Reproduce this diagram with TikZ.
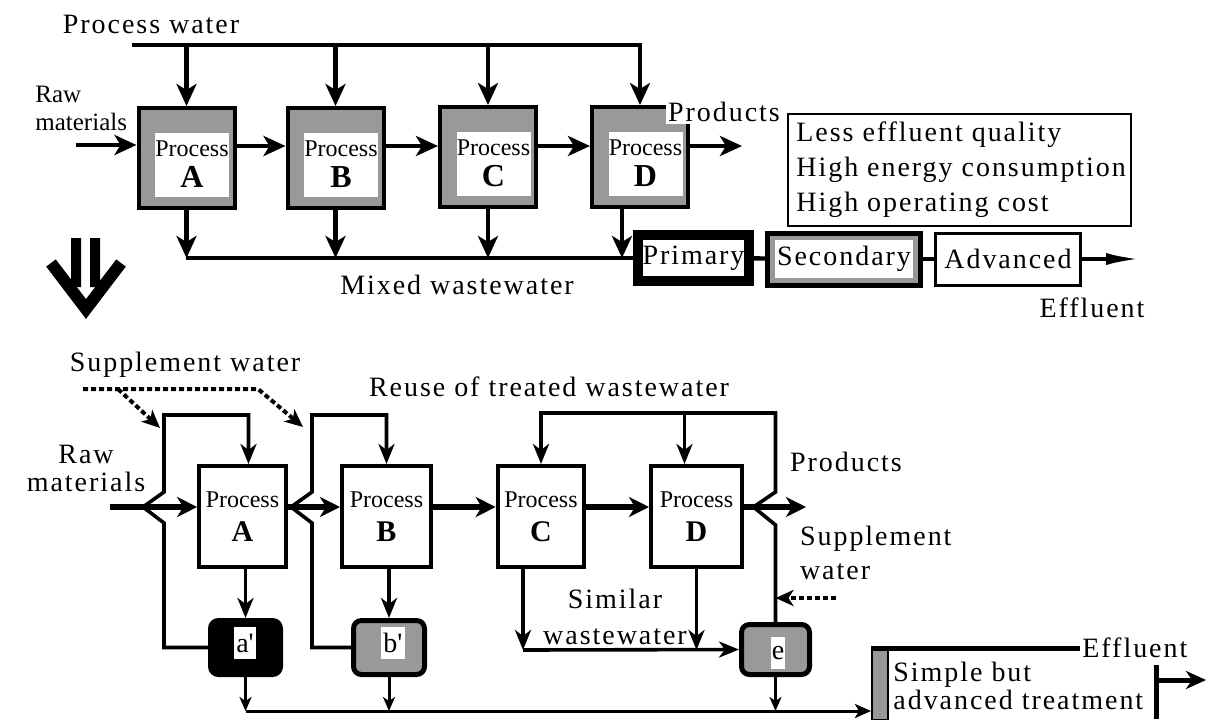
\documentclass[tikz,border=0pt]{standalone}
\usepackage{fontspec}
\setmainfont{Liberation Serif}[LetterSpace=7]
\newfontfamily\procfont{Liberation Serif}
\usetikzlibrary{arrows.meta}

\begin{document}
\begin{tikzpicture}[x=0.5pt,y=-0.5pt,font=\fontsize{14}{14}\selectfont,line join=miter,
  pipe/.style={line width=2.2pt},
  flow/.style={pipe,-{Stealth[length=11pt,width=10pt,inset=3pt]}},
  loopline/.style={line width=1.8pt},
  loopflow/.style={loopline,-{Stealth[length=10pt,width=8pt,inset=3pt]}},
  feed/.style={line width=2.6pt,-{Stealth[length=10pt,width=10pt,inset=3pt]}},
  drip/.style={line width=1.5pt,-{Stealth[length=7pt,width=6pt,inset=2pt]}},
  dotflow/.style={line width=2pt,dash pattern=on 2.5pt off 1.5pt,-{Stealth[length=9pt,width=8pt,inset=2.5pt]}},
  topbox/.style={draw,line width=2pt,fill=black!40,minimum width=48pt,minimum height=50pt},
  topin/.style={fill=white,inner sep=0pt,minimum width=37pt,minimum height=32pt,align=center,
    font=\procfont\fontsize{12}{15.5}\selectfont},
  botbox/.style={draw,line width=2pt,fill=white,minimum height=50.5pt,align=center,
    font=\procfont\fontsize{12}{17}\selectfont},
  tank/.style={draw,line width=2.5pt,rounded corners=4pt,fill=black!40},
  tag/.style={fill=white,inner sep=1pt,minimum height=16pt,minimum width=11pt},
]
\useasboundingbox (0,0) rectangle (1206,719);

% conventional layout
\node[topbox] (pA) at (186.5,158) {};
\node[topbox] (pB) at (335.5,158) {};
\node[topbox] (pC) at (488,157) {};
\node[topbox] (pD) at (640,157) {};
\node[topin] (iA) at (192,164.5) {Process\\{\fontsize{16}{15.5}\selectfont\bfseries A}};
\node[topin] (iB) at (341,164.5) {Process\\{\fontsize{16}{15.5}\selectfont\bfseries B}};
\node[topin] (iC) at (493.5,163.5) {Process\\{\fontsize{16}{15.5}\selectfont\bfseries C}};
\node[topin] (iD) at (645.5,163.5) {Process\\{\fontsize{16}{15.5}\selectfont\bfseries D}};

\node (pw) at (151,24) {Process water};
\coordinate (pwl) at (132,45);
\draw[flow] (pwl) -| (pD.north);
\foreach \b in {pA,pB,pC}
  \draw[flow] (\b.north |- pwl) -- (\b.north);

\node[align=left,anchor=west,inner sep=0pt,font=\procfont\fontsize{12.5}{14}\selectfont] (rawT) at (35,108) {Raw\\materials};
\coordinate (rawTin) at (76,145);
\draw[flow] (rawTin) -- (pA.west |- rawTin);
\coordinate (lvT) at (0,146);
\draw[flow] (pA.east |- lvT) -- (pB.west |- lvT);
\draw[flow] (pB.east |- lvT) -- (pC.west |- lvT);
\draw[flow] (pC.east |- lvT) -- (pD.west |- lvT);
\coordinate (prodT) at (742,146);
\draw[flow] (pD.east |- prodT) -- (prodT);
\node[fill=white,inner sep=1pt] (prT) at (724,112) {Products};

\node[draw,line width=5pt,fill=white,minimum width=55.5pt,minimum height=23pt,inner sep=1pt] (prim) at (693.5,258) {Primary};
\node[draw,line width=2.5pt,fill=black!40,minimum width=76.5pt,minimum height=26pt] (sec) at (844,259) {};
\node[fill=white,minimum width=69pt,minimum height=19pt,inner sep=0pt] (secT) at (sec.center) {Secondary};
\node[draw,line width=1.5pt,minimum width=72.5pt,minimum height=26pt] (adv) at (1008,259) {Advanced};
\draw[pipe] (prim) -- (sec);
\draw[pipe] (sec) -- (adv);
\coordinate (effT) at (1142,259);
\draw[line width=2.2pt,-{Latex[length=18pt,width=6pt]}] (adv.east) -- (effT);
\node (effTl) at (1092,308) {Effluent};

\coordinate (mx) at (186,258);
\draw[pipe] (mx) -- (prim.west);
\foreach \b in {pA,pB,pC}
  \draw[flow] (\b.south) -- (\b.south |- mx);
\path ([xshift=-9pt]pD.south) coordinate (dD);
\draw[flow] (dD) -- (dD |- mx);
\node (mixL) at (457,285) {Mixed wastewater};

\node[draw,line width=1pt,minimum width=171.5pt,minimum height=56pt] (note) at (959.5,170) {};
\node[anchor=west,align=left,inner sep=0pt,font=\fontsize{14}{17.5}\selectfont] (noteT) at (796,170)
  {Less effluent quality\\High energy consumption\\High operating cost};

% big down arrow
\fill (71,238) rectangle (81,287) (90,238) rectangle (100,287);
\draw[line width=6pt] (51,263) -- (86,309) -- (121,263);

% reuse layout
\node (supT) at (185,365) {Supplement water};
\node (reuseT) at (549,387) {Reuse of treated wastewater};
\node[align=center] (rawB) at (86,468) {Raw\\materials};

\node[botbox,minimum width=41.5pt] (pA2) at (242.5,516.5) {Process\\{\fontsize{15}{17}\selectfont\bfseries A}};
\node[botbox,minimum width=44.5pt] (pB2) at (386.5,516.5) {Process\\{\fontsize{15}{17}\selectfont\bfseries B}};
\node[botbox,minimum width=42pt] (pC2) at (541,516.5) {Process\\{\fontsize{15}{17}\selectfont\bfseries C}};
\node[botbox,minimum width=45.5pt] (pD2) at (696.5,516.5) {Process\\{\fontsize{15}{17}\selectfont\bfseries D}};

\node[tank,fill=black,minimum width=35pt,minimum height=27pt] (ta) at (245.5,647.5) {};
\node[tag] (ta1) at (245,643) {a\textquotesingle};
\node[tank,minimum width=35.5pt,minimum height=27pt] (tb) at (389,647.5) {};
\node[tag] (tb1) at (393,643) {b\textquotesingle};
\node[tank,minimum width=34pt,minimum height=25pt] (te) at (775.5,649.5) {};
\node[tag,minimum width=7pt,inner sep=0pt] (te1) at (778,653) {e};

\coordinate (rawBin) at (110,507);
\draw[feed] (rawBin) -- (pA2.west |- rawBin);
\draw[feed] (pA2.east |- rawBin) -- (pB2.west |- rawBin);
\draw[feed] (pB2.east |- rawBin) -- (pC2.west |- rawBin);
\draw[feed] (pC2.east |- rawBin) -- (pD2.west |- rawBin);
\coordinate (prodB) at (806,507);
\draw[feed] (pD2.east |- prodB) -- (prodB);
\node (prB) at (846,462) {Products};

\coordinate (topL) at (0,415);
\coordinate (topR) at (0,413);
\path ([xshift=3pt]pA2.north) coordinate (inA);
\draw[loopflow] (ta.west) -| (164,523) -- (143,507) -- (164,492) |- (inA |- topL) -- (inA);
\draw[loopflow] (tb.west) -| (312,523) -- (291,507) -- (312,492) |- (pB2.north |- topL) -- (pB2.north);
\draw[loopflow] (te.north) -- ++(0,-97) -- ++(-22,-18) -- ++(22,-15) |- (pC2.north |- topR) -- (pC2.north);
\path ([xshift=-6pt]pD2.north) coordinate (inD);
\draw[loopflow] (inD |- topR) -- (inD);

\draw[loopflow] (pA2.south -| ta.north) -- (ta.north);
\draw[loopflow] (pB2.south -| tb.north) -- (tb.north);

\coordinate (simL) at (0,650);
\path ([xshift=-9pt]pC2.south) coordinate (dC);
\draw[loopflow] (dC) -- (dC |- simL);
\draw[loopflow] (dC |- simL) -- (te.west);
\draw[loopflow] (pD2.south) -- (pD2.south |- simL);
\node[align=center,font=\fontsize{14}{18}\selectfont] (simT) at (615,617) {Similar\\wastewater};

\node[anchor=west,align=left,font=\fontsize{14}{17}\selectfont] (sup2) at (793,553) {Supplement\\water};
\coordinate (sup2in) at (836,598);
\draw[dotflow] (sup2in) -- (te.north |- sup2in);

\coordinate (sw0) at (83,389);
\coordinate (swA) at (160,428);
\coordinate (swB) at (303,427);
\draw[dotflow] (sw0) -- (258,389) -- (swB);
\draw[dotflow] (118,389) -- (swA);

% simple but advanced treatment
\node[draw,line width=1pt,fill=black!40,minimum width=8pt,minimum height=35.5pt,anchor=north west,inner sep=0pt] (sbar) at (871,648) {};
\node[anchor=west,inner sep=1pt] (eff2) at (1080,648) {Effluent};
\draw[line width=2.5pt] (sbar.north west) -- (eff2.west);
\node[anchor=north west,align=left,inner sep=0pt,font=\fontsize{14}{12.5}\selectfont] (simpT) at (893,662) {Simple but\\advanced treatment};
\coordinate (rbar) at (1156,719);
\draw[line width=2.5pt] (rbar) -- (1156,665);
\coordinate (effB) at (1206,680);
\draw[line width=2.5pt,-{Stealth[length=10pt,width=9pt,inset=3pt]}] (rbar |- effB) -- (effB);

\coordinate (bot) at (0,711);
\draw[line width=1.5pt,-{Stealth[length=8pt,width=7pt,inset=2pt]}] (ta.south |- bot) -- (sbar.west |- bot);
\draw[drip] (ta.south) -- (ta.south |- bot);
\draw[drip] (tb.south) -- (tb.south |- bot);
\draw[drip] (te.south) -- (te.south |- bot);
\end{tikzpicture}
\end{document}
